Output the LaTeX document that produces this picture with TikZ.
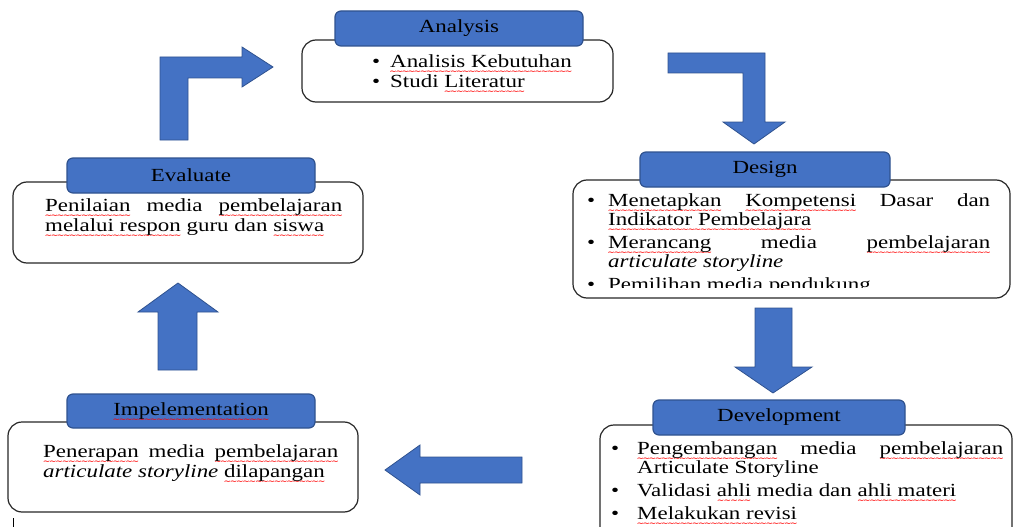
\documentclass[tikz,border=0pt]{standalone}
\usepackage{fontspec}
\setmainfont{Liberation Serif}[FakeStretch=1.24]
\newfontfamily\wavefont{DejaVu Sans}
\usepackage{xcolor}
\definecolor{titleblue}{HTML}{4472C4}
\definecolor{titleedge}{HTML}{2F528F}
\newlength\bulind
\newcommand\bul[1]{\noindent\hangindent=\bulind\hangafter=1\makebox[\bulind][l]{\textbullet}#1\par}
\newcommand\sq[1]{\setbox0\hbox{#1}\rlap{\smash{\lower7pt\hbox to\wd0{\color{red}\wavefont\fontsize{9}{9}\selectfont
  \xleaders\hbox to 6pt{\hss\char"7E\hss}\hfill}}}\box0\relax}
\tikzset{
  body/.style={draw=black!85, line width=1.2pt, rounded corners=14pt},
  title/.style={draw=titleedge, fill=titleblue, line width=1.2pt, rounded corners=6pt,
    inner sep=0pt, minimum height=35pt, font=\fontsize{18.5}{20}\selectfont},
  txt/.style={anchor=north west, inner sep=0pt, align=justify, font=\fontsize{18.5}{20}\selectfont},
  listtxt/.style={txt, font=\fontsize{18.5}{19}\selectfont},
  blockarrow/.style={fill=titleblue, draw=titleedge, line width=0.8pt, line join=miter}
}
\begin{document}
\begin{tikzpicture}[x=1pt, y=-1pt]
    \useasboundingbox (0,0) rectangle (1013,527);
    \draw[body] (302,40) rectangle (613,102);
    \draw[body] (573,180) rectangle (1010,298);
    \draw[body] (13,182) rectangle (363,263);
    \draw[body] (8,422) rectangle (358,512);
    \draw[body] (600,425) rectangle (1012,540);
    \node[title, minimum width=248pt] (analysis) at (459,28.5) {Analysis};
    \node[title, minimum width=250pt] (design) at (765,169.5) {Design};
    \node[title, minimum width=248pt] (evaluate) at (191,175.5) {Evaluate};
    \node[title, minimum width=248pt, minimum height=34pt] (implement) at (191,411) {\sq{Impelementation}};
    \node[title, minimum width=252pt] (develop) at (779,417.5) {Development};
    \node[txt, text width=240pt] (analysistxt) at (372,54.4) {\setlength\bulind{18pt}%
      \bul{\sq{Analisis Kebutuhan}}%
      \bul{Studi \sq{Literatur}}};
    \begin{scope}
        \clip (573,180) rectangle (1010,287);
        \node[listtxt, text width=403pt] (designtxt) at (587,193.4) {\setlength\bulind{21pt}\setlength\parskip{4pt}%
          \bul{\sq{Menetapkan}\hfill \sq{Kompetensi}\hfill Dasar\hfill dan\newline \sq{Indikator Pembelajara}}%
          \bul{\sq{Merancang}\hfill media\hfill \sq{pembelajaran}\newline \textit{articulate storyline}}%
          \bul{Pemilihan media pendukung}};
    \end{scope}
    \node[listtxt, text width=392pt] (developtxt) at (611,441.4) {\setlength\bulind{26pt}\setlength\parskip{4pt}%
      \bul{\sq{Pengembangan}\hfill media\hfill \sq{pembelajaran}\newline Articulate Storyline}%
      \bul{Validasi \sq{ahli} media dan \sq{ahli materi}}%
      \bul{\sq{Melakukan revisi}}};
    \node[txt, text width=297pt] (evaluatetxt) at (45,198.4)
      {\sq{Penilaian}\hfill media\hfill \sq{pembelajaran}\newline \sq{melalui respon} guru dan \sq{siswa}};
    \node[txt, text width=295pt] (implementtxt) at (43,444.4)
      {\sq{Penerapan}\hfill media\hfill \sq{pembelajaran}\newline \textit{articulate storyline} \sq{dilapangan}};
    \draw[blockarrow] (160,140) -- (160,57) -- (242,57) -- (242,47) -- (273,67) -- (242,87)
      -- (242,78) -- (188,78) -- (188,140) -- cycle;
    \draw[blockarrow] (668,53) -- (765,53) -- (765,122) -- (785,122) -- (754,144) -- (723,122)
      -- (743,122) -- (743,73) -- (668,73) -- cycle;
    \draw[blockarrow] (755,308) -- (792,308) -- (792,367) -- (812,367) -- (773,393) -- (735,367)
      -- (755,367) -- cycle;
    \draw[blockarrow] (522,457) -- (420,457) -- (420,445) -- (385,470) -- (420,495) -- (420,483)
      -- (522,483) -- cycle;
    \draw[blockarrow] (158,370) -- (158,312) -- (138,312) -- (178,283) -- (218,312) -- (197,312)
      -- (197,370) -- cycle;
    \draw[line width=0.8pt] (13,518) -- (13,527);
\end{tikzpicture}
\end{document}
